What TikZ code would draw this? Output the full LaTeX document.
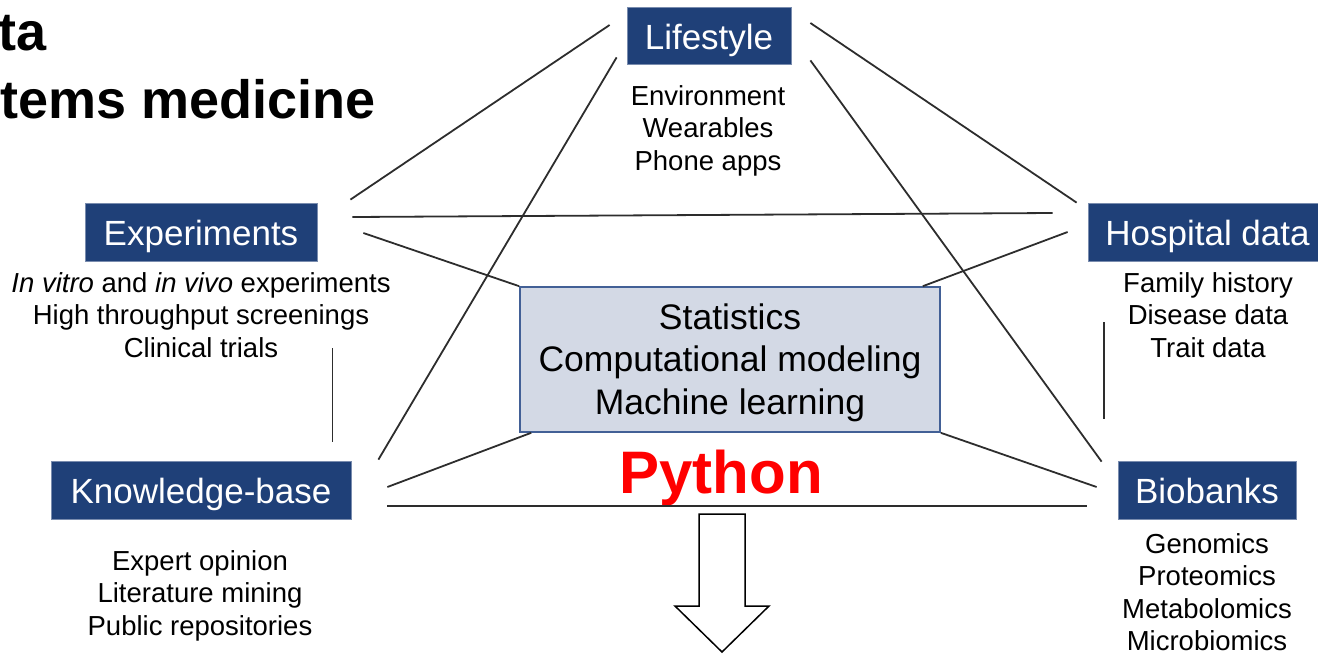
\documentclass[tikz,border=0pt]{standalone}
\usepackage{fontspec}
\setmainfont{Liberation Sans}
\definecolor{boxblue}{RGB}{31,64,120}
\definecolor{panelfill}{RGB}{211,217,229}
\definecolor{panelline}{RGB}{66,96,150}
\definecolor{linkgray}{RGB}{45,45,45}
\begin{document}
\begin{tikzpicture}[x=1pt,y=-1pt,
		header/.style={fill=boxblue,draw=boxblue!60!white,line width=0.8pt,text=white,inner sep=0,text height=27,text depth=0,font=\fontsize{35}{40}\selectfont},
		items/.style={align=center,inner sep=0,font=\fontsize{27.5}{32.5}\selectfont},
		link/.style={draw=linkgray,line width=1.8pt}]
			\useasboundingbox (0,0) rectangle (1318,654);

			\node[anchor=base west,inner sep=0,font=\fontsize{54}{60}\selectfont\bfseries] (titlea) at (-2,50) {ta};
			\node[anchor=base west,inner sep=0,font=\fontsize{54}{60}\selectfont\bfseries] (titleb) at (0,118) {tems medicine};

			\node[header,minimum width=164,minimum height=57] (life) at (709,35.5) {Lifestyle};
			\node[header,minimum width=232,minimum height=58] (exp) at (201,232) {Experiments};
			\node[header,minimum width=239,minimum height=58] (hosp) at (1207.5,232) {Hospital data};
			\node[header,minimum width=300,minimum height=58] (know) at (201,490) {Knowledge-base};
			\node[header,minimum width=178,minimum height=58] (bio) at (1207,490) {Biobanks};

			\node[items,anchor=base] (lifeitems) at (708,170) {Environment\\Wearables\\Phone apps};
			\node[items,anchor=base] (expitems) at (201,357) {\textit{In vitro} and \textit{in vivo} experiments\\High throughput screenings\\Clinical trials};
			\node[items,anchor=base] (hospitems) at (1208,357) {Family history\\Disease data\\Trait data};
			\node[items,anchor=base] (knowitems) at (200,635) {Expert opinion\\Literature mining\\Public repositories};
			\node[items,anchor=base] (bioitems) at (1207,650.5) {Genomics\\Proteomics\\Metabolomics\\Microbiomics};

			\node[fill=panelfill,draw=panelline,line width=1.6pt,inner sep=0,minimum width=420,minimum height=145] (stats) at (730,359.5) {};
			\node[align=center,inner sep=0,font=\fontsize{35.5}{42.5}\selectfont] (statstext) at ([shift={(0,3)}]stats.center) {Statistics\\Computational modeling\\Machine learning};
			\node[anchor=base,inner sep=0,text=red,font=\fontsize{60}{70}\selectfont\bfseries] (python) at (721,493) {Python};

			\draw[link] ([shift={(33,-3)}]exp.north east) -- ([shift={(-17,-10.5)}]life.west);
			\draw[link] ([shift={(27,-1)}]know.north east) -- ([shift={(-10,-7)}]life.south west);
			\draw[link] ([shift={(19,-12.5)}]life.east) -- ([shift={(-11,0)}]hosp.north west);
			\draw[link] ([shift={(19,-4)}]life.south east) -- ([shift={(-16,1)}]bio.north west);
			\draw[link] ([shift={(35,-15)}]exp.east) -- ([shift={(-35,-19)}]hosp.west);
			\draw[link] ([shift={(46,1)}]exp.east) -- (stats.north west);
			\draw[link] ([shift={(-18,0)}]stats.north east) -- ([shift={(-20,0)}]hosp.west);
			\draw[link] ([shift={(15,87)}]exp.south east) -- ([shift={(-19,-19)}]know.north east);
			\draw[link] ([shift={(16,61)}]hosp.south west) -- ([shift={(-14,-42)}]bio.north west);
			\draw[link] ([shift={(36,-3)}]know.east) -- ([shift={(12,0)}]stats.south west);
			\draw[link] (stats.south east) -- ([shift={(-21,-3)}]bio.west);
			\draw[link] ([shift={(36,16)}]know.east) -- ([shift={(-31,16)}]bio.west);

			\draw[line width=1.5pt,fill=white] (699,514) -- (745,514) -- (745,606) -- (769,606) -- (722,652) -- (675,606) -- (699,606) -- cycle;
		\end{tikzpicture}
\end{document}
